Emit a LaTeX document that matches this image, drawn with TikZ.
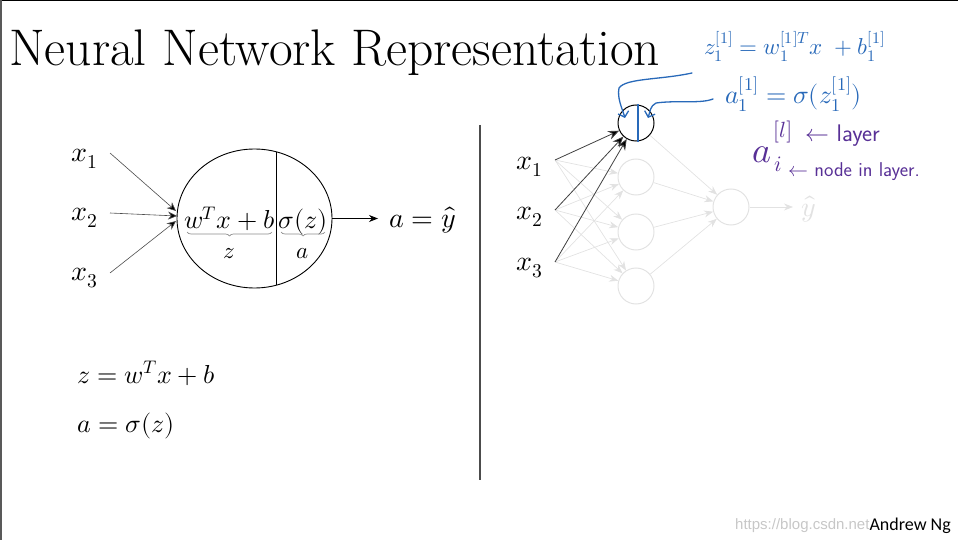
\documentclass[tikz,border=0pt]{standalone}
\usepackage{amsmath}
\usepackage{fontspec}
\usepackage{unicode-math}
\setmathfont{Latin Modern Math}
\newfontfamily\footfont{Carlito}
\newfontfamily\markfont{Liberation Sans}
\usetikzlibrary{arrows.meta,shapes.geometric,calc,decorations.pathreplacing}
\newcommand\fsz[1]{\fontsize{#1}{#1}\selectfont}
\definecolor{inkblue}{RGB}{40,105,185}
\definecolor{inkpurple}{RGB}{88,48,150}
\definecolor{faint}{RGB}{226,226,226}
\tikzset{
  >={Stealth[length=9pt,width=7pt]},
  mathlbl/.style={font=\fsz{28},inner sep=0pt},
  innerlbl/.style={font=\fsz{26},inner sep=0pt},
  sublbl/.style={font=\fsz{23},inner sep=0pt},
  unitbox/.style={draw,ellipse,minimum width=155pt,minimum height=139pt,
    inner sep=0pt,line width=0.9pt},
  ubrace/.style={draw=black!45,line width=0.7pt,
    decorate,decoration={brace,mirror,amplitude=4pt}},
  inwire/.style={-{Stealth[length=9pt,width=8pt,fill=black]},draw=black!70,line width=0.6pt},
  neuron/.style={circle,draw=faint,minimum size=36pt,inner sep=0pt,line width=1pt},
  hotneuron/.style={neuron,draw=black},
  wire/.style={->,draw=faint,line width=0.7pt},
  hotwire/.style={-{Stealth[length=11pt,width=9pt,fill=black]},draw=black!75,line width=0.8pt},
  ink/.style={inkblue,line width=1.3pt,line cap=round,line join=round},
  inktip/.style={ink,-{Straight Barb[length=5pt,width=11pt]}},
  blueeq/.style={inkblue,inner sep=0pt,anchor=base west},
  purpleeq/.style={inkpurple,inner sep=0pt,anchor=base west},
}
\begin{document}
\begin{tikzpicture}[x=1pt,y=-1pt]
  \useasboundingbox (0,0) rectangle (958,540);
  % frame edges of the slide
  \draw[line width=1.5pt] (0,0.75) -- (958,0.75);
  \draw[line width=1.5pt,black!65] (0.75,0) -- (0.75,540);
  \node[anchor=base west,inner sep=0pt,font=\fsz{51.5}] (title) at (9,66)
    {Neural Network Representation};

  % single unit
  \node[unitbox] (unit) at (254.5,218.5) {};
  \draw[line width=0.9pt] (276,151.7) -- (276,285.3);
  \node[innerlbl,anchor=base] (lin) at (229.5,229) {$w^Tx+b$};
  \node[innerlbl,anchor=base] (act) at (303,229) {$\sigma(z)$};
  \draw[ubrace] (187,232) -- (272,232);
  \draw[ubrace] (281,232) -- (325,232);
  \node[sublbl,anchor=base] (zlbl) at (229.5,258) {$z$};
  \node[sublbl,anchor=base] (albl) at (303,258) {$a$};

  \node[mathlbl] (x1) at (85,159) {$x_1$};
  \node[mathlbl] (x2) at (85,218) {$x_2$};
  \node[mathlbl] (x3) at (85,278) {$x_3$};
  \coordinate (s1) at (110,153);
  \coordinate (s2) at (110,213);
  \coordinate (s3) at (110,273);
  \coordinate (e1) at (176,211);
  \coordinate (e2) at (177,216);
  \coordinate (e3) at (176,221);
  \foreach \i in {1,2,3} \draw[inwire] (s\i) -- (e\i);

  \coordinate (outtip) at (378,218.5);
  \draw[->,line width=0.8pt] (unit.east) -- (outtip);
  \node[mathlbl,anchor=base west,font=\fsz{28}] (yhat) at (389,227) {$a=\hat{y}$};

  \node[innerlbl,anchor=base west] (zeq) at (77,383) {$z=w^Tx+b$};
  \node[innerlbl,anchor=base west] (aeq) at (77,432) {$a=\sigma(z)$};

  % divider
  \draw[line width=1.6pt,black!70] (480,125) -- (480,480);

  % network
  \node[hotneuron] (h1) at (636,123) {};
  \node[neuron] (h2) at (636,177) {};
  \node[neuron] (h3) at (636,232) {};
  \node[neuron] (h4) at (636,286) {};
  \node[neuron] (out) at (731,207) {};
  \node[mathlbl] (r1) at (530,167) {$x_1$};
  \node[mathlbl] (r2) at (530,217) {$x_2$};
  \node[mathlbl] (r3) at (530,268) {$x_3$};
  \coordinate (t1) at (555,160);
  \coordinate (t2) at (555,210);
  \coordinate (t3) at (555,262);
  \foreach \i in {1,2,3}
    \foreach \j in {2,3,4}
      \draw[wire] (t\i) -- (h\j);
  \foreach \j in {1,2,3,4} \draw[wire] (h\j) -- (out);
  \coordinate (ytip) at (793,207);
  \draw[wire] (out) -- (ytip);
  \node[mathlbl,faint,anchor=west] (ylbl) at (801,209) {$\hat{y}$};
  \foreach \i in {1,2,3} \draw[hotwire] (t\i) -- (h1);

  % notes on the first hidden unit
  \draw[ink] ([xshift=2pt]h1.north) -- ([xshift=2pt]h1.south);
  \draw[inktip] (692,73) .. controls (660,80) and (626,78) .. (619,88)
    .. controls (617,98) and (622,108) .. (625,118);
  \draw[inktip] (713,99) .. controls (700,104) and (678,100) .. (656,103)
    .. controls (650,106) and (650,112) .. (648,118);
  \node[blueeq,font=\fsz{23}] (zdef) at (704,55) {$z_1^{[1]}=w_1^{[1]T}x\;+b_1^{[1]}$};
  \node[blueeq,font=\fsz{26}] (adef) at (725,104) {$a_1^{[1]}=\sigma(z_1^{[1]})$};
  \node[purpleeq,font=\fsz{36}] (abig) at (752,163) {$a$};
  \node[purpleeq,font=\fsz{22}] (lsup) at (773,138) {$[l]$};
  \node[purpleeq,font=\fsz{22}] (isub) at (774,172) {$i$};
  \node[purpleeq,font=\fsz{24}\sffamily] (lnote) at (805,142) {$\leftarrow$ layer};
  \node[purpleeq,font=\fsz{20}\sffamily] (inote) at (788,177) {$\leftarrow$ node in layer.};

  % footer
  \node[anchor=base west,inner sep=0pt,font=\markfont\fsz{15},black!22] (mark) at (735,529)
    {https://blog.csdn.net};
  \node[anchor=base east,inner sep=0pt,font=\footfont\fsz{18}] (author) at (951,530)
    {Andrew Ng};
\end{tikzpicture}
\end{document}
